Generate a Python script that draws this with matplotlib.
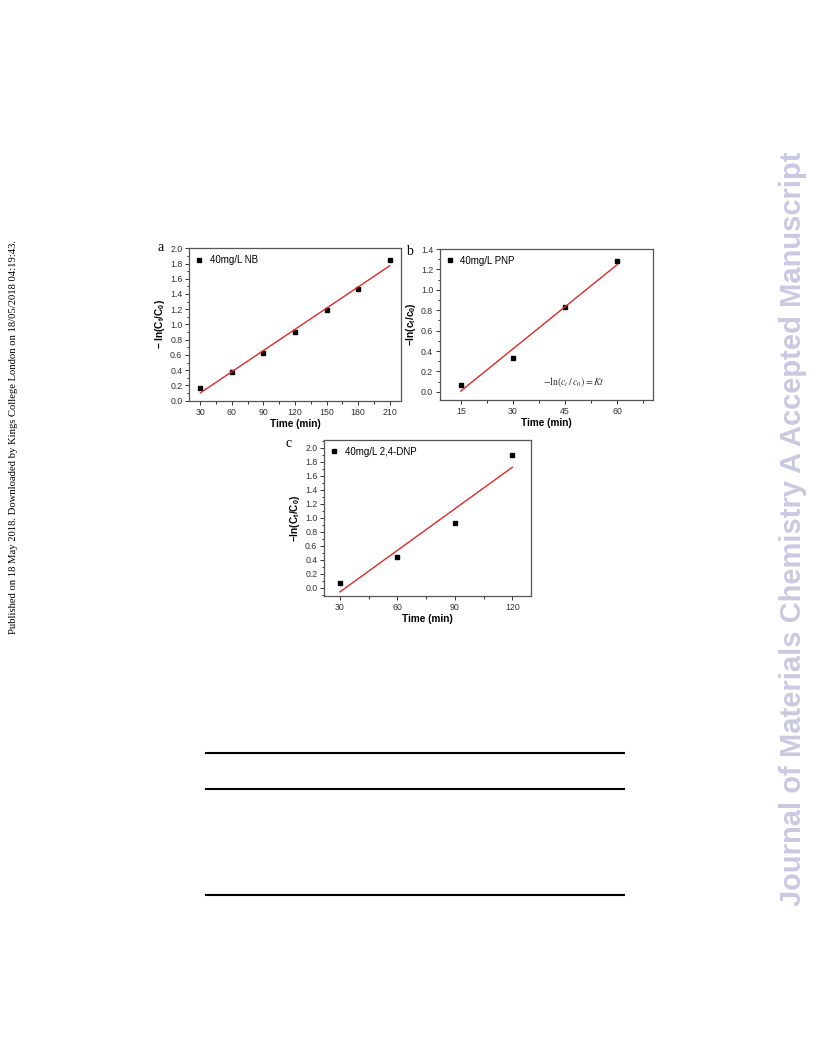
import numpy as np
import matplotlib
matplotlib.use("Agg")
import matplotlib.pyplot as plt
from matplotlib.ticker import MultipleLocator
from matplotlib.lines import Line2D

# data
time_nb = [30, 60, 90, 120, 150, 180, 210]
lnc_nb = [0.16, 0.37, 0.63, 0.90, 1.19, 1.46, 1.84]

time_pnp = [15, 30, 45, 60]
lnc_pnp = [0.07, 0.33, 0.83, 1.28]

time_dnp = [30, 60, 90, 120]
lnc_dnp = [0.07, 0.44, 0.92, 1.89]

legend_labels = ["40mg/L NB", "40mg/L PNP", "40mg/L 2,4-DNP"]
ylabels = [r"$\mathbf{-\ ln(C_t/C_0)}$", r"$\mathbf{-ln(c_t/c_0)}$", r"$\mathbf{-ln(C_t/C_0)}$"]

plt.rcParams["font.family"] = ["Liberation Sans", "DejaVu Sans"]
plt.rcParams["mathtext.fontset"] = "custom"
plt.rcParams["mathtext.rm"] = "Liberation Sans"
plt.rcParams["mathtext.it"] = "Liberation Sans"
plt.rcParams["mathtext.bf"] = "Liberation Sans:bold"

fig = plt.figure(figsize=(8.16, 10.56), dpi=100)


def panel(rect, x, y, label, ylab, xlim, ylim, xmaj, xmin, ymaj, ymin):
    ax = fig.add_axes(rect)
    ax.plot(x, y, "s", color="black", markersize=2.6, label=label)
    k, b = np.polyfit(x, y, 1)
    xs = np.array([x[0], x[-1]])
    ax.plot(xs, k * xs + b, color="#e02828", lw=1.0)
    ax.set_xlim(*xlim)
    ax.set_ylim(*ylim)
    ax.xaxis.set_major_locator(MultipleLocator(xmaj))
    ax.xaxis.set_minor_locator(MultipleLocator(xmin))
    ax.yaxis.set_major_locator(MultipleLocator(ymaj))
    ax.yaxis.set_minor_locator(MultipleLocator(ymin))
    ax.yaxis.set_major_formatter(matplotlib.ticker.FormatStrFormatter("%.1f"))
    ax.tick_params(which="both", direction="out", labelsize=6.3, width=0.7, colors="#333333", pad=2)
    ax.tick_params(which="major", length=3)
    ax.tick_params(which="minor", length=1.8)
    for s in ax.spines.values():
        s.set_color("#555555")
        s.set_linewidth(0.9)
    ax.set_xlabel("Time (min)", fontsize=7.2, fontweight="bold", labelpad=1.5)
    ax.set_ylabel(ylab, fontsize=7.2, labelpad=2)
    ax.legend(loc="upper left", frameon=False, fontsize=7, handlelength=0.6,
              handletextpad=0.8, borderaxespad=0.3)
    return ax


ax_a = panel([0.232, 0.6206, 0.259, 0.1443], time_nb, lnc_nb, legend_labels[0], ylabels[0],
             (19.5, 220.5), (0, 2.0), 30, 15, 0.2, 0.1)
ax_b = panel([0.5392, 0.6212, 0.261, 0.143], time_pnp, lnc_pnp, legend_labels[1], ylabels[1],
             (9, 70.3), (-0.08, 1.4), 15, 7.5, 0.2, 0.1)
ax_b.text(38.6, 0.1, r"$-\ln(c_t\,/\,c_0) = Kt$", fontsize=7, ha="left", va="center",
          math_fontfamily="stix", color="#333333")
ax_c = panel([0.3974, 0.4356, 0.253, 0.1477], time_dnp, lnc_dnp, legend_labels[2], ylabels[2],
             (21.8, 129.6), (-0.12, 2.11), 30, 15, 0.2, 0.1)

# panel letters
for txt, xx, yy in [("a", 0.197, 0.766), ("b", 0.502, 0.762), ("c", 0.354, 0.580)]:
    fig.text(xx, yy, txt, fontsize=10, family="Liberation Serif", ha="center", va="center")

# side texts
fig.text(0.017, 0.586, "Published on 18 May 2018. Downloaded by Kings College London on 18/05/2018 04:19:43.",
         rotation=90, fontsize=7.7, family="Liberation Serif", ha="center", va="center")
fig.text(0.972, 0.499, "Journal of Materials Chemistry A Accepted Manuscript", rotation=90,
         fontsize=21, fontweight="bold", color="#c9c9e2", ha="center", va="center")

# table rules below the figure
for ypix in [753, 788.5, 895]:
    fig.add_artist(Line2D([206 / 816, 624 / 816], [1 - ypix / 1056] * 2, color="black", lw=1.5))

fig.savefig("out.png", dpi=100)
